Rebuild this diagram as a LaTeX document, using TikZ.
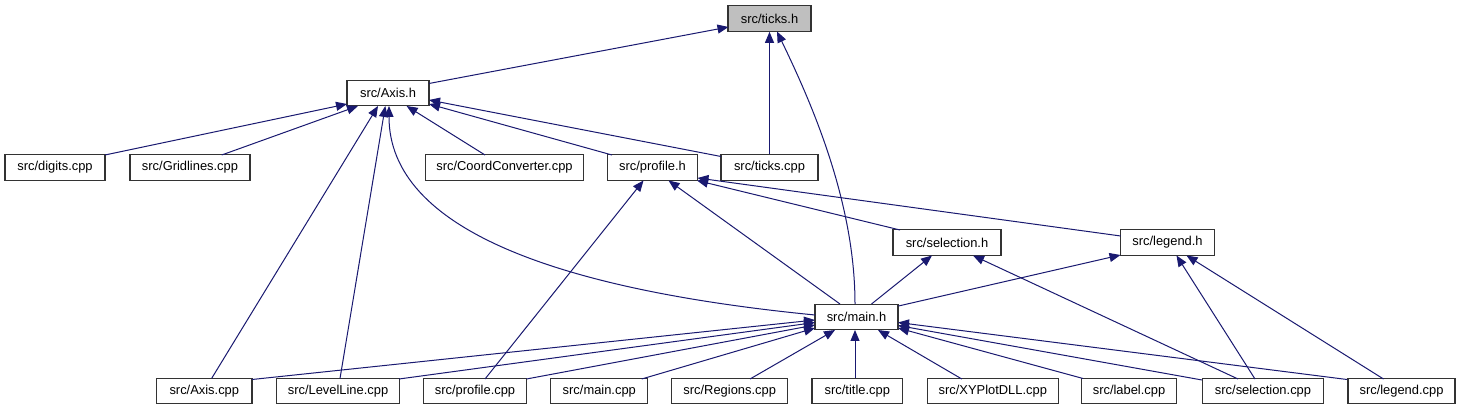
\documentclass[tikz,border=0pt]{standalone}
\usepackage{fontspec}
\setmainfont{Liberation Sans}
\usetikzlibrary{arrows.meta,calc}
\definecolor{edgecol}{HTML}{191970}
\definecolor{hlfill}{HTML}{BFBFBF}
\begin{document}
\begin{tikzpicture}[x=1pt,y=-1pt,
  box/.style={draw=black!80, line width=1.2pt, rectangle, minimum height=25.5pt,
    inner sep=0pt, fill=white, font=\fontsize{12.9}{15}\selectfont},
  e/.style={draw=edgecol, line width=1pt, -{Triangle[length=11pt,width=9pt]}}]
\useasboundingbox (0,0) rectangle (1461,411);
\fill[white] (0,0) rectangle (1461,411);

% nodes
\node[box, minimum width=83pt, fill=hlfill] (ticksh) at (769.5,18.5) {src/ticks.h};
\node[box, minimum width=82pt] (axish) at (388,93) {src/Axis.h};
\node[box, minimum width=100pt] (digits) at (55,167.5) {src/digits.cpp};
\node[box, minimum width=120pt] (grid) at (190,167.5) {src/Gridlines.cpp};
\node[box, minimum width=158pt] (coord) at (504.5,167.5) {src/CoordConverter.cpp};
\node[box, minimum width=90pt] (profh) at (652.5,167.5) {src/profile.h};
\node[box, minimum width=97pt] (tickscpp) at (769.5,167.5) {src/ticks.cpp};
\node[box, minimum width=108pt] (selh) at (947,242.5) {src/selection.h};
\node[box, minimum width=93.5pt] (legh) at (1167.5,242.5) {src/legend.h};
\node[box, minimum width=83pt] (mainh) at (856.5,317) {src/main.h};
\node[box, minimum width=95.5pt] (axiscpp) at (204.3,391) {src/Axis.cpp};
\node[box, minimum width=122.5pt] (level) at (338,391) {src/LevelLine.cpp};
\node[box, minimum width=103pt] (profcpp) at (475,391) {src/profile.cpp};
\node[box, minimum width=97pt] (maincpp) at (599.3,391) {src/main.cpp};
\node[box, minimum width=116pt] (regions) at (729.7,391) {src/Regions.cpp};
\node[box, minimum width=90.7pt] (title) at (857.3,391) {src/title.cpp};
\node[box, minimum width=131pt] (xyplot) at (992.8,391) {src/XYPlotDLL.cpp};
\node[box, minimum width=95pt] (label) at (1129,391) {src/label.cpp};
\node[box, minimum width=121.7pt] (selcpp) at (1263,391) {src/selection.cpp};
\node[box, minimum width=107pt] (legcpp) at (1401.5,391) {src/legend.cpp};

% edges to ticks.h
\draw[e] ($(axish)+(41,-9.5)$) -- ($(ticksh)+(-41,8.5)$);
\draw[e] (tickscpp.north) -- (ticksh.south);
\draw[e] ($(mainh)+(-1.5,-13)$) .. controls (855,200) and (810,100) .. ($(ticksh)+(7.5,13)$);

% edges to Axis.h
\draw[e] ($(digits)+(50,-12.5)$) -- ($(axish)+(-41,11)$);
\draw[e] ($(grid)+(31.7,-12.5)$) -- ($(axish)+(-30,13)$);
\draw[e] ($(axiscpp)+(7.4,-12.7)$) -- ($(axish)+(-10,13)$);
\draw[e] ($(level)+(2,-12.5)$) -- ($(axish)+(-2.7,13)$);
\draw[e] ($(mainh)+(-41.5,-2)$) .. controls (560,290) and (389,230) .. ($(axish)+(1,13)$);
\draw[e] ($(coord)+(-19.5,-12.5)$) -- ($(axish)+(18.6,13)$);
\draw[e] ($(profh)+(-40.5,-12.5)$) -- ($(axish)+(41,11)$);
\draw[e] ($(tickscpp)+(-48.5,-11)$) -- ($(axish)+(41,7)$);

% edges to profile.h
\draw[e] ($(profcpp)+(10,-12)$) -- ($(profh)+(-9,13)$);
\draw[e] ($(mainh)+(-16.5,-13)$) -- ($(profh)+(16,13)$);
\draw[e] ($(selh)+(-47,-12.5)$) -- ($(profh)+(44.5,13)$);
\draw[e] ($(legh)+(-46.8,-6.5)$) -- ($(profh)+(45,10.5)$);

% edges to selection.h
\draw[e] ($(mainh)+(15,-13)$) -- ($(selh)+(-15,13)$);
\draw[e] ($(selcpp)+(-25,-12)$) -- ($(selh)+(26,13)$);

% edges to legend.h
\draw[e] ($(mainh)+(42,-11)$) -- ($(legh)+(-47,12.5)$);
\draw[e] ($(selcpp)+(-8,-12)$) -- ($(legh)+(9,13)$);
\draw[e] ($(legcpp)+(-18,-12)$) -- ($(legh)+(19,13)$);

% edges to main.h
\draw[e] ($(axiscpp)+(47.7,-11.5)$) -- ($(mainh)+(-41.5,3)$);
\draw[e] ($(level)+(61,-12)$) -- ($(mainh)+(-41.5,5.5)$);
\draw[e] ($(profcpp)+(51.5,-12)$) -- ($(mainh)+(-41.5,8)$);
\draw[e] ($(maincpp)+(42.4,-12)$) -- ($(mainh)+(-41.5,11)$);
\draw[e] ($(regions)+(20.3,-12)$) -- ($(mainh)+(-21.5,13)$);
\draw[e] ($(title)+(-2.3,-12.75)$) -- ($(mainh)+(-1.5,13)$);
\draw[e] ($(xyplot)+(-31,-12)$) -- ($(mainh)+(21.5,13)$);
\draw[e] ($(label)+(-46,-12.5)$) -- ($(mainh)+(41.5,11)$);
\draw[e] ($(selcpp)+(-61,-11)$) -- ($(mainh)+(41.5,8.5)$);
\draw[e] ($(legcpp)+(-54.5,-11.5)$) -- ($(mainh)+(41.5,5.5)$);
\end{tikzpicture}
\end{document}
